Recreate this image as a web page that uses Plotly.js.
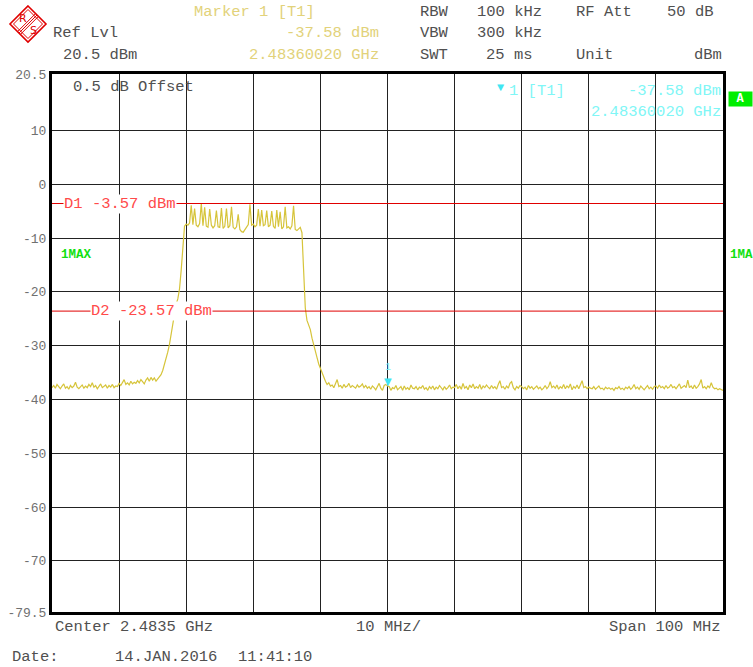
<!DOCTYPE html>
<html>
<head>
<meta charset="utf-8">
<script src="https://cdn.plot.ly/plotly-3.0.1.min.js"></script>
<style>html,body{margin:0;padding:0;background:#fff;}#chart{width:753px;height:667px;}</style>
</head>
<body>
<div id="chart"></div>
<script>
// ---- Sweep grid (centre 2483.5 MHz, span 100 MHz) ----
const freqStartMHz = 2433.5;
const freqStepMHz = 0.25;

// ---- Trace 1 (MAX hold) levels in dBm, one per sweep point ----
const traceLevels = [
  // 2433.5 - 2438.25
  -37.8,-37.4,-37.9,-37.2,-37.6,-38.0,-37.5,-37.1,-37.9,-37.6,-38.1,-37.4,-37.8,-37.5,-36.8,-37.7,-38.0,-37.6,-37.3,-37.9,
  // 2438.5 - 2443.25
  -37.5,-37.8,-37.2,-37.6,-36.9,-37.7,-37.4,-38.0,-37.5,-37.1,-37.8,-37.6,-37.3,-37.9,-37.4,-37.7,-37.2,-37.8,-37.5,-37.6,
  // 2443.5 - 2448.25
  -37.0,-37.4,-36.8,-36.3,-37.2,-36.9,-37.3,-36.6,-37.1,-36.8,-37.0,-36.5,-36.9,-36.3,-36.7,-37.1,-36.4,-36.0,-36.6,-35.9,
  // 2448.5 - 2453.25
  -36.4,-36.0,-36.6,-36.2,-35.9,-35.4,-34.6,-33.6,-32.4,-31.2,-29.8,-27.8,-25.6,-23.8,-22.3,-21.3,-19.5,-16.0,-10.8,-7.8,
  // 2453.5 - 2458.25
  -7.4,-7.6,-7.2,-3.9,-7.5,-4.5,-7.6,-7.9,-7.3,-3.6,-7.7,-4.3,-7.8,-8.0,-4.6,-7.6,-8.1,-7.7,-4.9,-7.9,
  // 2458.5 - 2463.25
  -8.0,-4.4,-8.2,-7.8,-4.5,-8.1,-7.7,-4.2,-8.0,-8.3,-7.9,-5.6,-8.4,-8.8,-8.9,-8.5,-7.9,-7.5,-3.7,-7.6,
  // 2463.5 - 2468.25
  -7.4,-7.9,-7.6,-4.6,-7.8,-4.8,-7.7,-7.5,-4.9,-7.9,-7.6,-5.0,-7.8,-8.2,-4.8,-7.9,-5.1,-8.3,-7.9,-4.2,
  // 2468.5 - 2473.25
  -8.1,-7.9,-8.3,-7.7,-4.0,-8.4,-8.6,-8.2,-8.0,-9.0,-17.5,-23.0,-25.3,-26.2,-27.0,-28.6,-30.0,-31.0,-32.2,-33.4,
  // 2473.5 - 2478.25
  -34.2,-35.2,-36.1,-36.6,-37.2,-36.9,-37.5,-37.3,-37.8,-37.1,-36.3,-37.6,-37.4,-37.9,-37.2,-37.7,-37.5,-37.0,-37.8,-37.4,
  // 2478.5 - 2483.25
  -37.6,-37.9,-37.3,-37.7,-37.5,-37.1,-37.8,-37.4,-37.9,-37.6,-38.1,-37.5,-37.8,-38.2,-37.6,-37.0,-37.9,-38.3,-37.4,-37.2,
  // 2483.5 - 2488.25
  -37.5,-37.6,-38.3,-37.8,-38.0,-37.4,-38.2,-37.9,-37.6,-38.3,-37.5,-38.1,-37.8,-38.2,-37.3,-37.9,-38.0,-37.6,-38.2,-37.7,
  // 2488.5 - 2493.25
  -37.9,-37.4,-38.1,-37.8,-38.3,-37.6,-38.0,-37.5,-38.2,-37.7,-38.0,-37.4,-37.9,-38.2,-37.6,-38.1,-37.8,-37.3,-38.0,-37.7,
  // 2493.5 - 2498.25
  -37.8,-37.2,-38.0,-37.5,-38.1,-37.0,-37.9,-37.6,-38.2,-37.3,-37.8,-37.1,-38.0,-37.6,-37.9,-37.2,-38.1,-37.5,-37.8,-37.3,
  // 2498.5 - 2503.25
  -37.7,-38.0,-37.4,-37.9,-37.6,-38.1,-37.2,-36.5,-37.8,-37.6,-38.1,-37.5,-37.9,-37.0,-36.7,-37.8,-38.2,-37.6,-37.9,-37.4,
  // 2503.5 - 2508.25
  -37.6,-38.0,-37.7,-38.2,-37.4,-37.9,-37.6,-38.1,-37.8,-37.5,-38.0,-37.7,-38.2,-37.9,-37.4,-38.0,-37.6,-36.7,-37.8,-37.5,
  // 2508.5 - 2513.25
  -37.9,-37.3,-38.1,-37.6,-37.9,-37.2,-38.0,-37.5,-37.8,-37.1,-38.2,-37.6,-37.9,-37.3,-38.0,-37.4,-36.5,-37.8,-37.6,-38.0,
  // 2513.5 - 2518.25
  -37.7,-37.9,-38.0,-37.6,-38.1,-37.8,-37.5,-38.0,-37.9,-38.2,-37.7,-38.0,-37.8,-38.1,-37.9,-38.3,-37.8,-38.0,-37.6,-38.1,
  // 2518.5 - 2523.25
  -37.9,-38.2,-37.7,-38.0,-37.6,-38.1,-37.8,-37.2,-38.0,-37.7,-38.1,-37.5,-37.9,-38.2,-37.8,-37.4,-38.0,-37.7,-38.1,-37.6,
  // 2523.5 - 2528.25
  -37.5,-37.9,-37.3,-37.8,-37.6,-38.0,-37.4,-37.9,-37.7,-37.2,-37.8,-37.6,-38.0,-37.5,-37.1,-37.9,-37.6,-37.4,-37.8,-36.4,
  // 2528.5 - 2533.25
  -37.8,-37.5,-38.0,-37.3,-37.9,-37.6,-37.1,-36.3,-37.9,-37.6,-38.0,-37.5,-37.8,-36.9,-37.7,-38.0,-37.9,-38.2,-38.0,-38.1,
  // 2533.5
  -38.3
];
const traceFreqs = traceLevels.map((_, i) => freqStartMHz + freqStepMHz * i);

// ---- Axis ----
const xGridFreqs = [2433.5,2443.5,2453.5,2463.5,2473.5,2483.5,2493.5,2503.5,2513.5,2523.5,2533.5];
const yTickVals = [20.5,10,0,-10,-20,-30,-40,-50,-60,-70,-79.5];
const yTickText = ["20.5","10","0","-10","-20","-30","-40","-50","-60","-70","-79.5"];

// ---- Display lines & marker ----
const displayLineNames = ["D1","D2"];
const displayLineLevels = [-3.57, -23.57];
const markerFreq = [2483.6002];
const markerLevel = [-37.58];

// ---- pixel helpers (layout only) ----
const L = 52, R = 723, T = 74, B = 612;
const PX = x => (x - L) / (R - L);
const PY = y => (B - y) / (B - T);

const MONO = "Liberation Mono, DejaVu Sans Mono, monospace";
const GREY = "#505050";
const YEL = "#e2d27a";
const CYAN = "#80f6f6";
const RED = "#e00000";

function txt(text, x, y, anchor, color, size, extra) {
  return Object.assign({
    text: text, xref: "paper", yref: "paper", x: PX(x), y: PY(y),
    xanchor: anchor, yanchor: "middle", showarrow: false,
    font: {family: MONO, size: size || 15.5, color: color || GREY}
  }, extra || {});
}

const annotations = [
  txt("Marker 1 [T1]", 192, 12, "left", YEL),
  txt("Ref Lvl", 51, 33, "left", GREY),
  txt("-37.58 dBm", 381, 33, "right", YEL),
  txt("20.5 dBm", 61, 55, "left", GREY),
  txt("2.48360020 GHz", 381, 55, "right", YEL),
  txt("RBW", 418, 12, "left"), txt("100 kHz", 475, 12, "left"),
  txt("VBW", 418, 33, "left"), txt("300 kHz", 475, 33, "left"),
  txt("SWT", 418, 55, "left"), txt("25 ms", 484, 55, "left"),
  txt("RF Att", 574, 12, "left"), txt("50 dB", 716, 12, "right"),
  txt("Unit", 574, 55, "left"), txt("dBm", 724, 55, "right"),
  txt("0.5 dB Offset", 71, 87, "left", GREY),
  txt("▼", 501, 88, "center", "#40e6f2", 12),
  txt("1 [T1]", 507, 91, "left", CYAN),
  txt("-37.58 dBm", 723, 91, "right", CYAN),
  txt("2.48360020 GHz", 723, 112, "right", CYAN),
  txt("<b>A</b>", 740, 99, "center", "#ffffff", 12, {bgcolor: "#00ee00", width: 23, height: 14, borderpad: 0}),
  txt("<b>1MAX</b>", 59, 255, "left", "#10e010", 12.5),
  txt("<b>1MA</b>", 728, 255, "left", "#10e010", 12.5),
  txt("Center 2.4835 GHz", 53, 627, "left"),
  txt("10 MHz/", 388, 627, "center"),
  txt("Span 100 MHz", 723, 627, "right"),
  txt("Date:", 10, 657, "left"),
  txt("14.JAN.2016", 113, 657, "left"),
  txt("11:41:10", 236, 657, "left"),
  // logo letters
  txt("R", 23, 18, "center", RED, 11, {font: {family: "DejaVu Sans, sans-serif", size: 11, color: RED}}),
  txt("S", 33, 31, "center", RED, 11, {font: {family: "DejaVu Sans, sans-serif", size: 11, color: RED}})
];

// display-line labels
const dlLabelX = [63, 90];
displayLineNames.forEach((n, i) => {
  annotations.push({
    text: n + " " + displayLineLevels[i].toFixed(2) + " dBm",
    xref: "paper", yref: "y", x: PX(dlLabelX[i]), y: displayLineLevels[i],
    xanchor: "left", yanchor: "middle", showarrow: false,
    bgcolor: "#ffffff", borderpad: 0,
    font: {family: MONO, size: 15.5, color: "#ff4a4a"}
  });
});

// marker symbol on trace
annotations.push({
  text: "▼", x: markerFreq[0], y: markerLevel[0], xref: "x", yref: "y",
  xanchor: "center", yanchor: "bottom", showarrow: false, yshift: -3,
  font: {family: "DejaVu Sans", size: 10, color: "#40e6f2"}
});
annotations.push({
  text: "1", x: markerFreq[0], y: markerLevel[0], xref: "x", yref: "y",
  xanchor: "center", yanchor: "bottom", showarrow: false, yshift: 11,
  font: {family: MONO, size: 10, color: CYAN}
});

// shapes
const shapes = [];
displayLineLevels.forEach(v => shapes.push({
  type: "line", xref: "paper", yref: "y", x0: 0, x1: 1, y0: v, y1: v,
  line: {color: RED, width: 1}, layer: "above"
}));
function poly(pts) {
  return "M" + pts.map(p => PX(p[0]) + "," + PY(p[1])).join(" L") + " Z";
}
function seg(a, b) {
  return "M" + PX(a[0]) + "," + PY(a[1]) + " L" + PX(b[0]) + "," + PY(b[1]);
}
shapes.push({type: "path", xref: "paper", yref: "paper", path: poly([[28,6],[46,24],[28,42],[10,24]]), line: {color: RED, width: 1.6}});
shapes.push({type: "path", xref: "paper", yref: "paper", path: poly([[28,9.5],[42.5,24],[28,38.5],[13.5,24]]), line: {color: RED, width: 1}});
[-2, 0, 2].forEach(d => {
  const o = d / Math.SQRT2;
  shapes.push({type: "path", xref: "paper", yref: "paper",
    path: seg([19 + o, 33 + o], [37 + o, 15 + o]), line: {color: RED, width: 1}});
});

const data = [{
  x: traceFreqs, y: traceLevels, type: "scatter", mode: "lines",
  line: {color: "#d6c43a", width: 1.2}, hoverinfo: "skip"
}];

const layout = {
  width: 753, height: 667,
  margin: {l: L, r: 753 - R, t: T, b: 667 - B, pad: 0},
  paper_bgcolor: "#ffffff", plot_bgcolor: "#ffffff",
  showlegend: false,
  xaxis: {
    range: [2433.5, 2533.5], tickvals: xGridFreqs, showticklabels: false,
    showgrid: true, gridcolor: "#222", gridwidth: 1, zeroline: false,
    showline: true, linecolor: "#000", linewidth: 3, mirror: true, ticks: "", fixedrange: true
  },
  yaxis: {
    range: [-79.5, 20.5], tickvals: yTickVals, ticktext: yTickText,
    showgrid: true, gridcolor: "#222", gridwidth: 1, zeroline: false,
    showline: true, linecolor: "#000", linewidth: 3, mirror: true, ticks: "",
    tickfont: {family: MONO, size: 13, color: "#707070"}, fixedrange: true
  },
  annotations: annotations,
  shapes: shapes
};

Plotly.newPlot("chart", data, layout, {staticPlot: true, displayModeBar: false});
</script>
</body>
</html>
